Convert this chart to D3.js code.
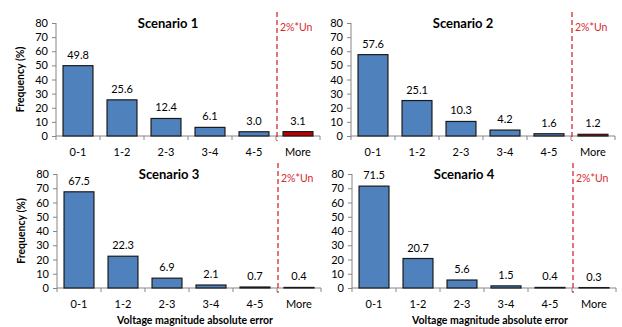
<!DOCTYPE html>
<html><head><meta charset="utf-8">
<script src="https://cdn.jsdelivr.net/npm/d3@7"></script>
<style>body{margin:0;background:#fff}svg{display:block}text{font-family:Lato,"Open Sans",sans-serif}</style>
</head><body><svg id="c" width="622" height="327"></svg>
<script>
const categories = ["0-1","1-2","2-3","3-4","4-5","More"];
const titles = ["Scenario 1","Scenario 2","Scenario 3","Scenario 4"];
const scenario1 = [49.8,25.6,12.4,6.1,3.0,3.1];
const scenario2 = [57.6,25.1,10.3,4.2,1.6,1.2];
const scenario3 = [67.5,22.3,6.9,2.1,0.7,0.4];
const scenario4 = [71.5,20.7,5.6,1.5,0.4,0.3];
const yTicks = [0,10,20,30,40,50,60,70,80];
const limitLabel = "2%*Un";
const yTitle = "Frequency (%)";
const xTitle = "Voltage magnitude absolute error";

const series = [scenario1, scenario2, scenario3, scenario4];
const panels = [
  {x:56, top:23, bottom:136, yTitle:true, xTitle:false},
  {x:351, top:23, bottom:136, yTitle:false, xTitle:false},
  {x:57, top:174, bottom:288, yTitle:true, xTitle:true},
  {x:352, top:174, bottom:288, yTitle:false, xTitle:true}
];
const W = 264;
const svg = d3.select("#c");
const red = "#D7282F";

panels.forEach((p,i)=>{
  const g = svg.append("g").attr("transform",`translate(${p.x},0)`);
  const x = d3.scaleBand().domain(categories).range([0,W]).paddingInner(0.32).paddingOuter(0.16);
  const y = d3.scaleLinear().domain([0,80]).range([p.bottom,p.top]);
  const data = series[i];

  // y axis
  const ya = g.append("g").call(d3.axisLeft(y).tickValues(yTicks).tickSize(4).tickPadding(4));
  ya.select(".domain").attr("stroke","#868686").attr("d",`M0,${p.top}V${p.bottom}`);
  ya.selectAll(".tick line").attr("stroke","#868686");
  ya.selectAll("text").attr("font-size",11).attr("fill","#000");

  // x axis
  const xa = g.append("g").attr("transform",`translate(0,${p.bottom})`)
    .call(d3.axisBottom(x).tickSize(0).tickPadding(12));
  xa.select(".domain").attr("stroke","#868686").attr("d",`M0,0H${W}`);
  xa.selectAll("text").attr("font-size",11).attr("fill","#000");
  const step = x.step();
  g.append("g").selectAll("line").data(d3.range(categories.length+1)).join("line")
    .attr("x1",d=>d*step).attr("x2",d=>d*step)
    .attr("y1",p.bottom).attr("y2",p.bottom+4).attr("stroke","#868686");

  // bars
  g.append("g").selectAll("rect").data(data).join("rect")
    .attr("x",(d,j)=>x(categories[j])).attr("width",x.bandwidth())
    .attr("y",d=>y(d)).attr("height",d=>p.bottom-y(d))
    .attr("fill",(d,j)=>j===categories.length-1?"#C00000":"#4F81BD")
    .attr("stroke","#1a1a1a").attr("stroke-width",1.2);

  // value labels
  g.append("g").selectAll("text").data(data).join("text")
    .attr("x",(d,j)=>x(categories[j])+x.bandwidth()/2)
    .attr("y",d=>y(d)-7).attr("text-anchor","middle").attr("font-size",11).attr("fill","#000")
    .text(d=>d.toFixed(1));

  // red dashed limit
  const lx = 5*step+1;
  g.append("line").attr("x1",lx).attr("x2",lx).attr("y1",p.top-11).attr("y2",p.bottom+5)
    .attr("stroke",red).attr("stroke-width",1.3).attr("stroke-dasharray","5,3");
  g.append("text").attr("x",lx+3).attr("y",p.top+8).attr("font-size",10.5).attr("fill",red).text(limitLabel);

  // title
  g.append("text").attr("x",W/2-20).attr("y",p.top+5).attr("text-anchor","middle")
    .attr("font-size",13).attr("font-weight","bold").text(titles[i]);

  if(p.yTitle){
    g.append("text").attr("transform",`translate(-32,${(p.top+p.bottom)/2}) rotate(-90)`)
      .attr("text-anchor","middle").attr("font-size",10.5).attr("font-weight","bold").text(yTitle);
  }
  if(p.xTitle){
    g.append("text").attr("x",W/2+6).attr("y",p.bottom+36).attr("text-anchor","middle")
      .attr("font-size",10.5).attr("font-weight","bold").text(xTitle);
  }
});
</script></body></html>
